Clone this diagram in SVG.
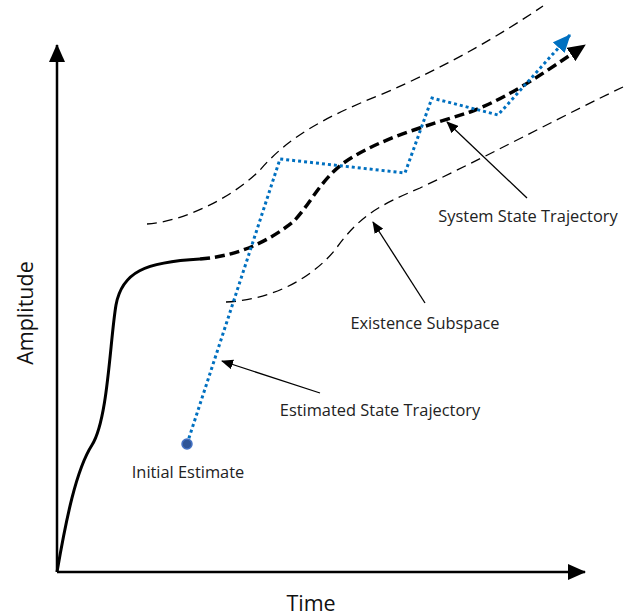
<svg xmlns="http://www.w3.org/2000/svg" width="630" height="616" viewBox="0 0 630 616">
<style>
.lbl{font-family:"Open Sans","Liberation Sans",sans-serif;font-size:16.4px;fill:#222}
.ax{font-family:"Open Sans","Liberation Sans",sans-serif;font-size:21.5px;fill:#111}
.thin{fill:none;stroke:#000;stroke-width:1.3;stroke-dasharray:10 6}
.ptr{fill:none;stroke:#000;stroke-width:1.3;marker-end:url(#ah)}
</style>
<defs>
<marker id="tip" markerWidth="18" markerHeight="16" refX="17" refY="8" orient="auto" markerUnits="userSpaceOnUse" viewBox="0 0 18 16"><path d="M0,0 L18,8 L0,16 z" fill="#000"/></marker>
<marker id="btip" markerWidth="18" markerHeight="16" refX="17" refY="8" orient="auto" markerUnits="userSpaceOnUse" viewBox="0 0 18 16"><path d="M0,0 L18,8 L0,16 z" fill="#0070c0"/></marker>
<marker id="ah" markerWidth="12" markerHeight="10" refX="11" refY="5" orient="auto" markerUnits="userSpaceOnUse" viewBox="0 0 12 10"><path d="M0,0 L12,5 L0,10 z" fill="#000"/></marker>
</defs>
<g id="axes">
<line x1="57" y1="572" x2="57" y2="45" stroke="#000" stroke-width="2.5" marker-end="url(#tip)"/>
<line x1="57" y1="572" x2="585" y2="572" stroke="#000" stroke-width="2.5" marker-end="url(#tip)"/>
<text class="ax" x="0" y="0" text-anchor="middle" transform="translate(33,313) rotate(-90)">Amplitude</text>
<text class="ax" x="311" y="611" text-anchor="middle">Time</text>
</g>
<g id="existence-subspace">
<path class="thin" d="M147,224 C180,222 230,200 260,170 C290,135 330,115 380,95 C450,65 500,35 543,6"/>
<path class="thin" d="M226,302 C270,300 310,280 335,250 C360,215 380,205 420,188 C500,150 570,112 623,87"/>
</g>
<g id="system-trajectory">
<path d="M57,572 C66,520 76,470 92,445 C108,420 110,340 116,305 C122,272 145,262 200,259" fill="none" stroke="#000" stroke-width="3"/>
<path d="M200,259 C240,256 270,240 293,222 C310,205 320,180 345,162 C380,138 430,125 470,112 C510,97 545,72 585,45" fill="none" stroke="#000" stroke-width="3.5" stroke-dasharray="10 5" marker-end="url(#tip)"/>
</g>
<g id="estimated-trajectory">
<path d="M187,444 L280,159 L405,173 L432,98 L498,115 L570,35" fill="none" stroke="#0070c0" stroke-width="3" stroke-dasharray="3 3" marker-end="url(#btip)"/>
<circle cx="187" cy="444" r="5" fill="#2f5597" stroke="#4472c4" stroke-width="1.5"/>
</g>
<g id="connectors">
<line class="ptr" x1="527" y1="198" x2="447" y2="122"/>
<line class="ptr" x1="425" y1="303" x2="373" y2="222"/>
<line class="ptr" x1="320" y1="393" x2="222" y2="361"/>
</g>
<g id="labels">
<text class="lbl" x="528" y="222" text-anchor="middle">System State Trajectory</text>
<text class="lbl" x="425" y="329" text-anchor="middle">Existence Subspace</text>
<text class="lbl" x="380" y="416" text-anchor="middle">Estimated State Trajectory</text>
<text class="lbl" x="188" y="478" text-anchor="middle">Initial Estimate</text>
</g>
</svg>
